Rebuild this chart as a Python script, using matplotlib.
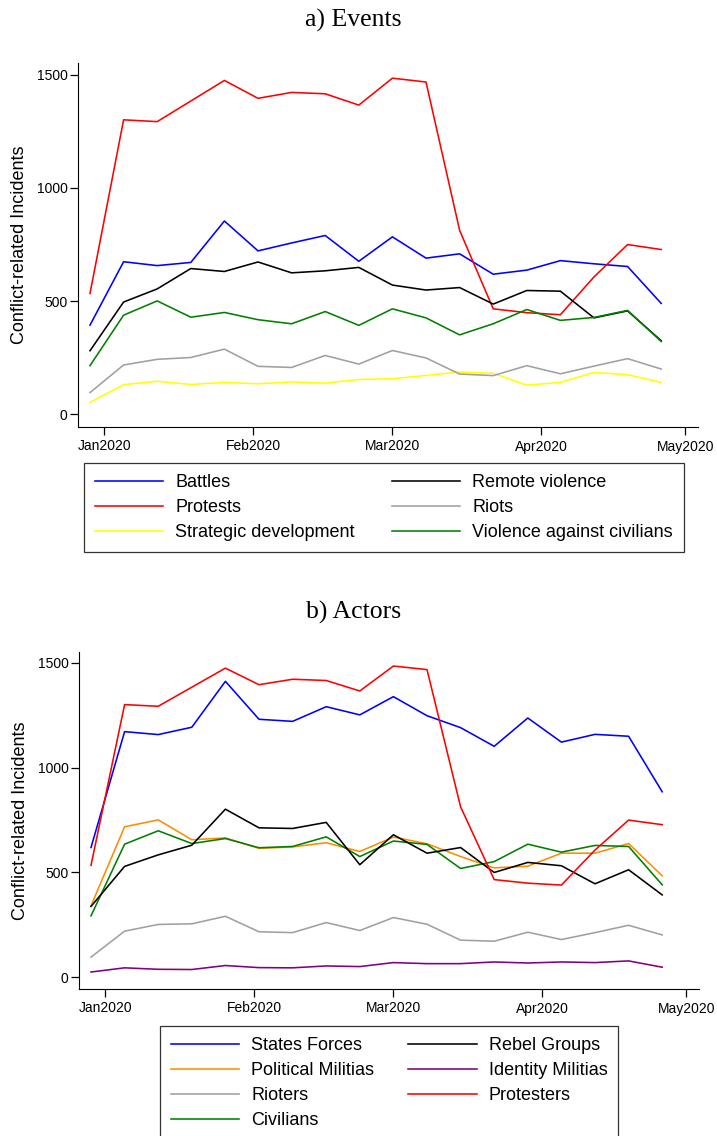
import pandas as pd
import matplotlib
matplotlib.use('Agg')
import matplotlib.pyplot as plt
import matplotlib.dates as mdates

plt.rcParams['font.family'] = ['Liberation Sans', 'DejaVu Sans']

# weekly dates
weeks = pd.to_datetime(['2019-12-29', '2020-01-05', '2020-01-12', '2020-01-19', '2020-01-26',
                        '2020-02-02', '2020-02-09', '2020-02-16', '2020-02-23', '2020-03-01',
                        '2020-03-08', '2020-03-15', '2020-03-22', '2020-03-29', '2020-04-05',
                        '2020-04-12', '2020-04-19', '2020-04-26'])

# a) events
battles = [394, 674, 657, 671, 854, 722, 757, 790, 676, 784, 690, 709, 619, 637, 679, 665, 653, 490]
protests = [534, 1301, 1293, 1384, 1475, 1396, 1422, 1416, 1366, 1485, 1468, 813, 466, 449, 440, 607, 750, 728]
strategic = [53, 131, 146, 132, 141, 135, 143, 138, 154, 157, 172, 187, 181, 129, 141, 185, 175, 141]
remote = [281, 496, 554, 644, 631, 673, 625, 634, 649, 571, 549, 560, 487, 547, 544, 426, 457, 325]
riots = [96, 218, 243, 251, 288, 212, 207, 260, 222, 282, 249, 178, 171, 215, 179, 213, 246, 200]
vac = [215, 438, 501, 429, 450, 418, 400, 454, 393, 466, 426, 351, 400, 463, 415, 428, 459, 322]

# b) actors
state_forces = [619, 1172, 1158, 1193, 1412, 1231, 1221, 1291, 1252, 1339, 1248, 1191, 1102, 1237, 1122, 1159, 1150, 885]
political_mil = [341, 718, 751, 656, 665, 615, 622, 642, 600, 669, 637, 576, 522, 530, 592, 592, 638, 484]
rioters = [96, 220, 252, 255, 291, 217, 213, 261, 223, 285, 253, 177, 172, 215, 180, 213, 248, 202]
civilians = [293, 635, 699, 638, 662, 618, 624, 670, 576, 650, 634, 519, 552, 635, 597, 629, 624, 441]
rebels = [338, 529, 584, 630, 802, 713, 710, 739, 537, 680, 592, 619, 500, 548, 532, 446, 513, 393]
identity_mil = [25, 45, 38, 37, 56, 46, 45, 54, 51, 70, 65, 65, 73, 68, 73, 70, 78, 48]
protesters = protests

month_ticks = pd.to_datetime(['2020-01-01', '2020-02-01', '2020-03-01', '2020-04-01', '2020-05-01'])

fig = plt.figure(figsize=(7.17, 11.36), dpi=100)
ax1 = fig.add_axes([78/717, 1-427/1136, 620/717, 364/1136])
ax2 = fig.add_axes([79/717, 1-989/1136, 620/717, 337/1136])

lw = 1.15
ax1.plot(weeks, battles, color='#0000ff', lw=lw, label='Battles')
ax1.plot(weeks, protests, color='#ff0000', lw=lw, label='Protests')
ax1.plot(weeks, strategic, color='#ffff00', lw=lw, label='Strategic development')
ax1.plot(weeks, remote, color='black', lw=lw, label='Remote violence')
ax1.plot(weeks, riots, color='#a0a0a0', lw=lw, label='Riots')
ax1.plot(weeks, vac, color='#008000', lw=lw, label='Violence against civilians')

ax2.plot(weeks, state_forces, color='#0000ff', lw=lw, label='States Forces')
ax2.plot(weeks, political_mil, color='#ff8c00', lw=lw, label='Political Militias')
ax2.plot(weeks, rioters, color='#a0a0a0', lw=lw, label='Rioters')
ax2.plot(weeks, civilians, color='#008000', lw=lw, label='Civilians')
ax2.plot(weeks, rebels, color='black', lw=lw, label='Rebel Groups')
ax2.plot(weeks, identity_mil, color='#800080', lw=lw, label='Identity Militias')
ax2.plot(weeks, protesters, color='#ff0000', lw=lw, label='Protesters')

for ax in (ax1, ax2):
    ax.set_xlim(pd.Timestamp('2019-12-26 12:00'), pd.Timestamp('2020-05-03 16:00'))
    ax.set_ylim(-56, 1552)
    ax.set_yticks([0, 500, 1000, 1500])
    ax.set_xticks(month_ticks)
    ax.xaxis.set_major_formatter(mdates.DateFormatter('%b%Y'))
    ax.spines['top'].set_visible(False)
    ax.spines['right'].set_visible(False)
    ax.tick_params(direction='out', length=6, width=0.9, labelsize=10)
    ax.tick_params(axis='y', pad=1.5)
    ax.tick_params(axis='x', pad=3)
    ax.set_ylabel('Conflict-related Incidents', fontsize=13, labelpad=6)

fig.text(353.5/717, 1-20/1136, 'a) Events', ha='center', va='center', fontsize=18.5, family='Liberation Serif')
fig.text(353.5/717, 1-612/1136, 'b) Actors', ha='center', va='center', fontsize=18.5, family='Liberation Serif')

leg_kw = dict(ncol=2, fontsize=13, frameon=True, fancybox=False, edgecolor='black',
              handlelength=3.8, handletextpad=0.65, labelspacing=0.45,
              borderpad=0.6, borderaxespad=0)
l1 = fig.legend(*ax1.get_legend_handles_labels(), loc='upper left', columnspacing=2.05,
                bbox_to_anchor=(84/717, 1-463/1136), **leg_kw)
l2 = fig.legend(*ax2.get_legend_handles_labels(), loc='upper left', columnspacing=1.9,
                bbox_to_anchor=(160/717, 1-1026/1136), **leg_kw)
for l in (l1, l2):
    l.get_frame().set_linewidth(0.9)

fig.savefig('out.png', dpi=100)
